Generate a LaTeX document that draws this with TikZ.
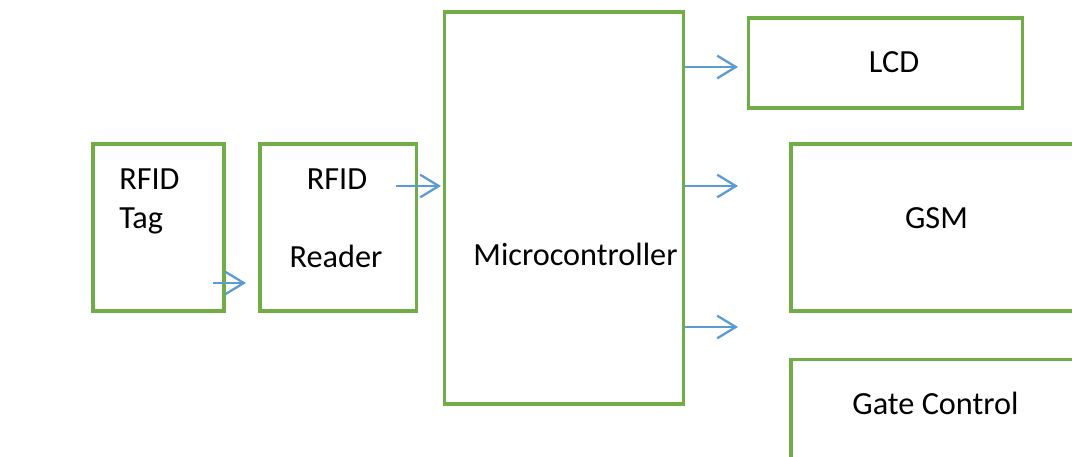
\documentclass[tikz,border=0pt]{standalone}
\usepackage{fontspec}
\setmainfont{Carlito}
\usetikzlibrary{arrows.meta, positioning}
\definecolor{boxgreen}{HTML}{70AD47}
\definecolor{arrowblue}{HTML}{5B9BD5}

\begin{document}
\begin{tikzpicture}[
    x=0.75pt, y=-0.75pt,
    font=\fontsize{24.2}{28}\selectfont,
    block/.style={draw=boxgreen, line width=2.3pt, inner sep=0pt},
    lbl/.style={anchor=base, inner sep=0pt},
    arrow/.style={-{Straight Barb[length=14pt, width=17pt]}, line width=1.7pt, draw=arrowblue}
]
\useasboundingbox (0,0) rectangle (1072,457);
\fill[white] (0,0) rectangle (1072,457);
\clip (0,0) rectangle (1072,457);

% Blocks
\node[block, minimum width=98.25pt, minimum height=125.25pt] (tag) at (158.5,227.5) {};
\node[block, minimum width=117.4pt, minimum height=125.25pt] (reader) at (338.25,227.5) {};
\node[block, minimum width=179.5pt, minimum height=294pt] (micro) at (563.7,208) {};
\node[block, minimum width=205.5pt, minimum height=67.5pt] (lcd) at (885.7,63) {};
\node[block, minimum width=224.25pt, minimum height=125.25pt] (gsm) at (940.5,227.5) {};
\node[block, minimum width=224.25pt, minimum height=90.5pt] (gate) at (940.5,419.7) {};

% Labels
\node[lbl, anchor=base west] (tagtop) at (119,189) {RFID};
\node[lbl, anchor=base west] (tagbot) at (119,228) {Tag};
\node[lbl] (readtop) at (337,189) {RFID};
\node[lbl] (readbot) at (336,267) {Reader};
\node[lbl] (microtxt) at (575.5,265) {Microcontroller};
\node[lbl] (lcdtxt) at (894,72) {LCD};
\node[lbl] (gsmtxt) at (936.5,228) {GSM};
\node[lbl] (gatetxt) at (935.5,414) {Gate Control};

% Arrow ends
\coordinate (tagout) at (213,283);
\coordinate (readin) at (246,283);
\coordinate (readout) at (396,186);
\coordinate (microin) at (441,186);
\coordinate (lcdin) at (738,67);
\coordinate (gsmin) at (738,186);
\coordinate (gatein) at (738,327);

% Flows
\draw[arrow] (tagout) -- (readin);
\draw[arrow] (readout) -- (microin);
\draw[arrow] (micro.east |- lcdin) -- (lcdin);
\draw[arrow] (micro.east |- gsmin) -- (gsmin);
\draw[arrow] (micro.east |- gatein) -- (gatein);

\end{tikzpicture}
\end{document}
